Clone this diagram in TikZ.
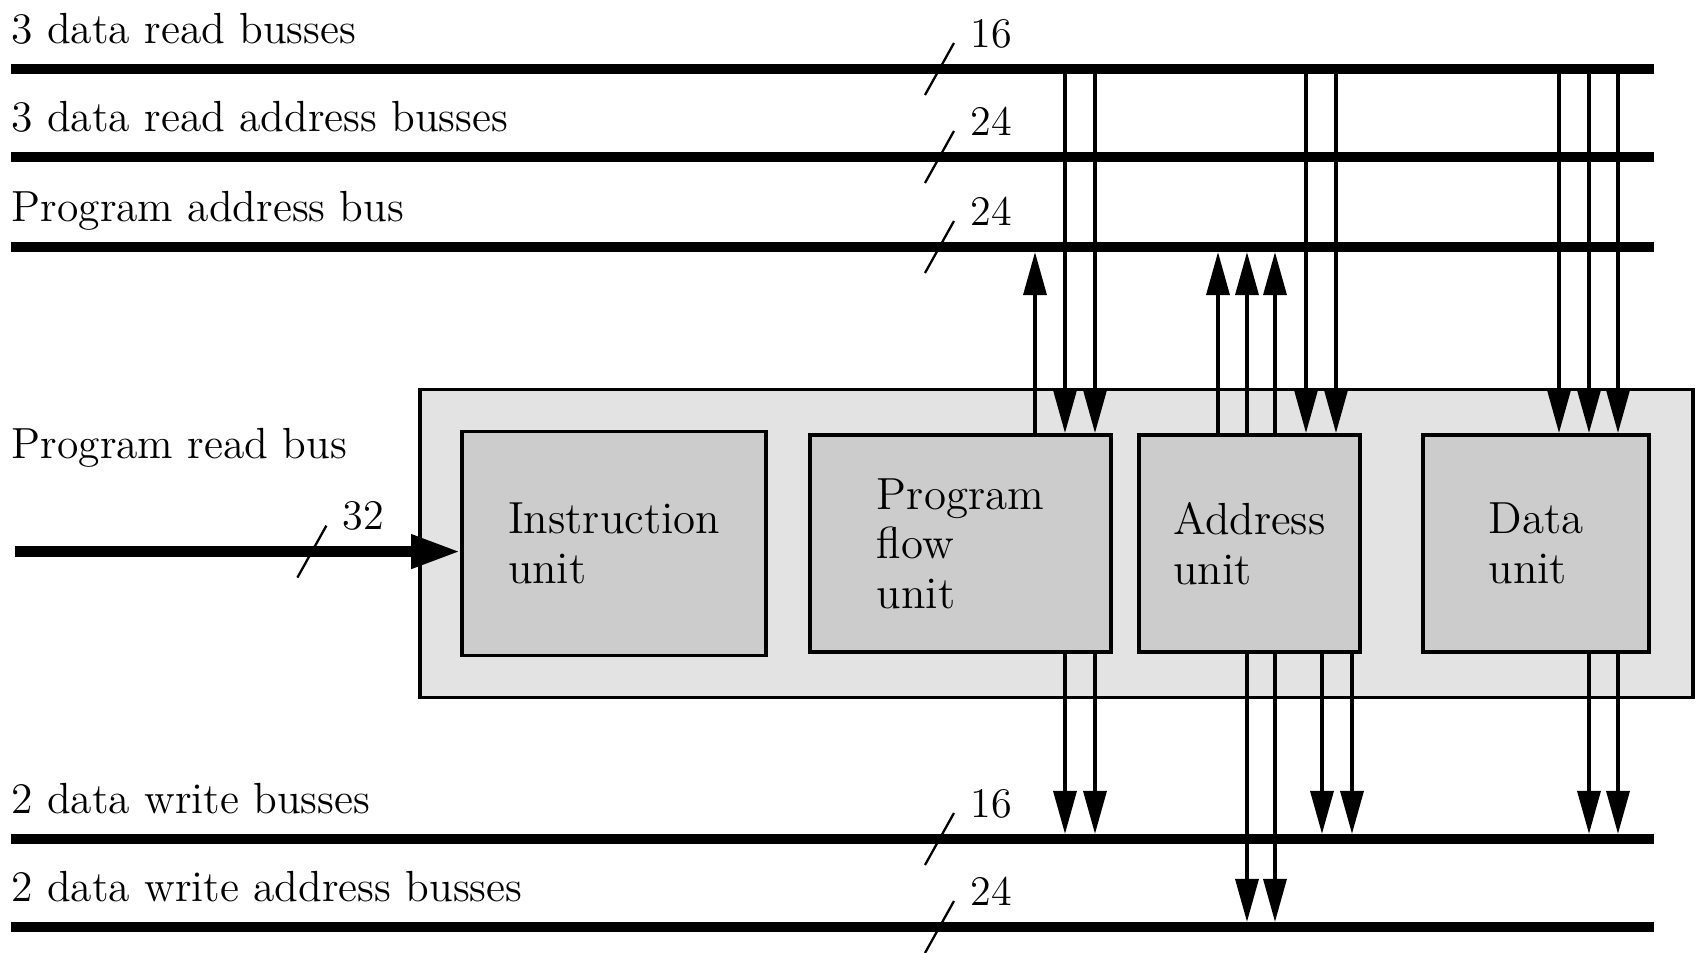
\documentclass[tikz,border=0pt]{standalone}
\usetikzlibrary{arrows.meta,positioning}
\definecolor{fondo}{gray}{0.89}
\definecolor{unidadgris}{gray}{0.80}
\begin{document}
\begin{tikzpicture}[
		bus/.style={line width=2.9pt},
		senal/.style={line width=1pt, -{Triangle[length=4.3mm,width=2.3mm]}},
		abus/.style={senal, shorten >=1.45pt},
		marca/.style={line width=0.65pt},
		etiqueta/.style={anchor=base west, inner sep=0pt, font=\fontsize{12.4}{14}\selectfont},
		numero/.style={anchor=base west, inner sep=0pt, font=\fontsize{12}{14}\selectfont},
		caja/.style={draw, line width=1.1pt, fill=fondo},
		unidad/.style={draw, line width=1.1pt, fill=unidadgris, align=left, font=\fontsize{12.8}{14.1}\selectfont, minimum height=2.17cm}
	]
	\useasboundingbox (0,0) rectangle (16.96,9.53);

	% Buses
		\foreach \nom/\y/\texto/\bits in {rd/8.84/3 data read busses/16, rda/7.96/3 data read address busses/24, pa/7.06/Program address bus/24, wd/1.14/2 data write busses/16, wda/0.26/2 data write address busses/24}{
			\coordinate (\nom-i) at (0.11,\y);
			\coordinate (\nom-d) at (16.54,\y);
			\draw[bus] (\nom-i) -- (\nom-d);
			\node[etiqueta] (\nom-txt) at ([yshift=2.55mm]\nom-i) {\texto};
			% Ancho
			\draw[marca] ([xshift=9.14cm,yshift=-2.6mm]\nom-i) -- ++(0.29,0.52);
			\node[numero] (\nom-n) at ([xshift=9.59cm,yshift=2.1mm]\nom-i) {\bits};
		}

	% Procesador
		\node[caja, minimum width=12.73cm, minimum height=3.08cm] (dsp) at (10.565,4.095) {};
		\node[unidad, minimum width=3.04cm, minimum height=2.24cm] (iu) at (6.14,4.095) {Instruction\\unit};
		\node[unidad, minimum width=3.01cm] (pfu) at (9.605,4.095) {Program\\flow\\unit};
		\node[unidad, minimum width=2.21cm] (au) at (12.495,4.095) {Address\\unit};
		\node[unidad, minimum width=2.26cm] (du) at (15.36,4.095) {Data\\unit};

	% Bus de lectura de programa
		\coordinate (pr-i) at (0.15,4.014);
		\node[etiqueta] (pr-txt) at (0.11,4.944) {Program read bus};
		\draw[bus, -{Triangle[length=4.9mm,width=3.2mm]}] (pr-i) -- (pr-i -| iu.west);
		\draw[marca] (2.974,3.754) -- ++(0.29,0.52);
		\node[numero] (pr-n) at (3.418,4.23) {32};

	% Lecturas
		\foreach \x in {10.65,10.95}
			\draw[senal] (\x,0 |- rd-i) -- (\x,0 |- pfu.north);
		\foreach \x in {13.06,13.36}
			\draw[senal] (\x,0 |- rd-i) -- (\x,0 |- au.north);
		\foreach \x in {15.59,15.89,16.18}
			\draw[senal] (\x,0 |- rd-i) -- (\x,0 |- du.north);

	% Direcciones de programa y de lectura
		\draw[abus] (10.35,0 |- pfu.north) -- (10.35,0 |- pa-i);
		\foreach \x in {12.18,12.47,12.75}
			\draw[abus] (\x,0 |- au.north) -- (\x,0 |- pa-i);

	% Escrituras
		\foreach \x in {10.65,10.95}
			\draw[abus] (\x,0 |- pfu.south) -- (\x,0 |- wd-i);
		\foreach \x in {12.47,12.75}
			\draw[abus] (\x,0 |- au.south) -- (\x,0 |- wda-i);
		\foreach \x in {13.22,13.52}
			\draw[abus] (\x,0 |- au.south) -- (\x,0 |- wd-i);
		\foreach \x in {15.89,16.18}
			\draw[abus] (\x,0 |- du.south) -- (\x,0 |- wd-i);
\end{tikzpicture}
\end{document}
